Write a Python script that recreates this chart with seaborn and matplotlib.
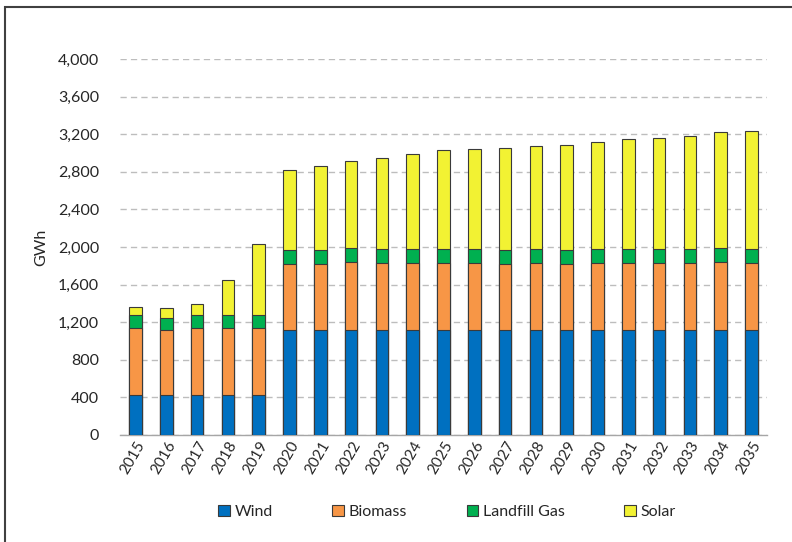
import numpy as np
import pandas as pd
import seaborn as sns
from matplotlib import pyplot as plt
from matplotlib.patches import Rectangle, Patch

years = [str(y) for y in range(2015, 2036)]
wind = [425, 425, 425, 425, 425] + [1120] * 16
biomass = [708, 690, 708, 708, 708, 695, 695, 720, 710, 710, 710, 710, 703, 710, 703, 710, 710, 710, 710, 720, 710]
landfill = [148, 135, 148, 148, 148, 150, 150, 148, 149, 149, 149, 149, 145, 149, 149, 149, 149, 149, 149, 149, 149]
solar = [82, 102, 110, 372, 755, 856, 892, 931, 970, 1012, 1048, 1065, 1090, 1094, 1118, 1136, 1165, 1182, 1207, 1232, 1253]

names = ['Wind', 'Biomass', 'Landfill Gas', 'Solar']
colors = ['#0070C0', '#F79646', '#00B050', '#F2F233']

df = pd.DataFrame({'year': years, 'Wind': wind, 'Biomass': biomass,
                   'Landfill Gas': landfill, 'Solar': solar})
cum = df[names].cumsum(axis=1)

sns.set_style('white')
plt.rcParams['font.family'] = ['Lato', 'DejaVu Sans']

fig = plt.figure(figsize=(7.92, 5.42), dpi=100)
ax = fig.add_axes([120 / 792, 1 - 435 / 542, 647 / 792, 376 / 542])

# draw from the top of the stack down so lower segments sit over higher ones
for name, col in zip(names[::-1], colors[::-1]):
    sns.barplot(x=df['year'], y=cum[name], color=col, saturation=1, width=0.41,
                edgecolor='#3a3a3a', linewidth=0.8, ax=ax, zorder=3)

ax.set_ylim(0, 4000)
ax.set_xlim(-0.5, 20.5)
ax.set_yticks(np.arange(0, 4001, 400))
ax.set_yticklabels([f'{v:,}' for v in range(0, 4001, 400)], fontsize=11.5, color='#262626')
ax.yaxis.grid(True, color='#BDBDBD', linestyle=(0, (4.5, 3)), linewidth=1, zorder=0)
ax.set_axisbelow(True)
ax.tick_params(axis='y', length=0, pad=15)
ax.tick_params(axis='x', length=0, pad=3)
plt.setp(ax.get_xticklabels(), rotation=60, ha='right', rotation_mode='anchor',
         fontsize=11, color='#262626')
for s in ['left', 'right', 'top']:
    ax.spines[s].set_visible(False)
ax.spines['bottom'].set_color('#A6A6A6')
ax.spines['bottom'].set_linewidth(1)
ax.set_xlabel('')
ax.set_ylabel('GWh', fontsize=11.5, color='#262626', labelpad=7)

handles = [Patch(facecolor=c, edgecolor='#3a3a3a', linewidth=0.8) for c in colors]
fig.legend(handles, names, loc='center', bbox_to_anchor=(447 / 792, 1 - 512 / 542),
           ncol=4, frameon=False, fontsize=11.5, handlelength=0.7, handleheight=0.7,
           handletextpad=0.3, columnspacing=3.75)

fig.patches.append(Rectangle((5 / 792, -0.02), 1.05, 1 - 7 / 542 + 0.02,
                             transform=fig.transFigure, fill=False,
                             edgecolor='#404040', linewidth=1.5))

plt.savefig('out.png', dpi=100)
